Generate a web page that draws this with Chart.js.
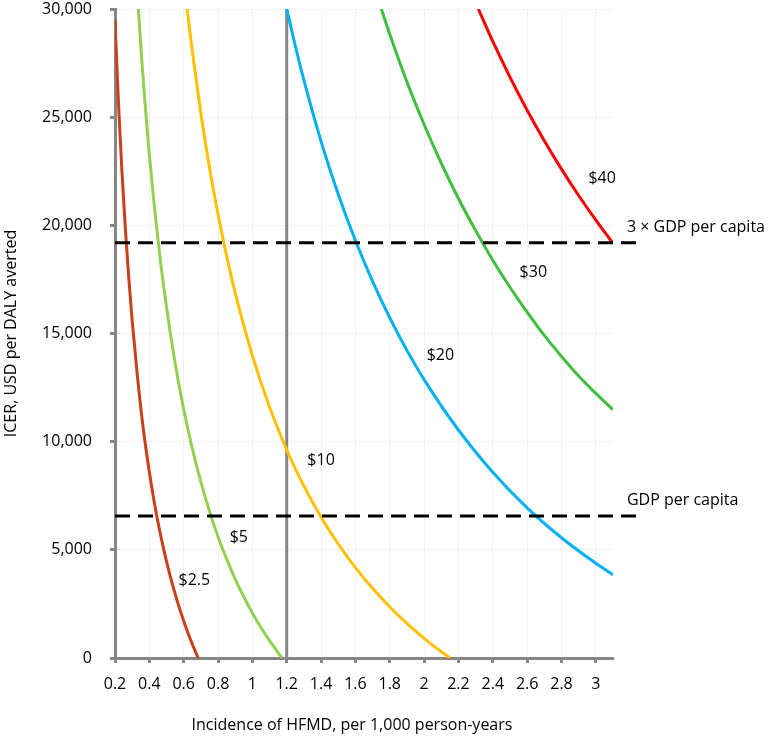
<!DOCTYPE html>
<html>
<head>
<meta charset="utf-8">
<title>ICER by incidence of HFMD</title>
<script src="https://cdn.jsdelivr.net/npm/chart.js@4.4.0/dist/chart.umd.min.js"></script>
<style>
    html, body { margin: 0; padding: 0; background: #fff; }
    #wrap { width: 776px; height: 737px; }
</style>
</head>
<body>
<div id="wrap"><canvas id="icerChart" width="776" height="737"></canvas></div>
<script>
// values (incidence per 1,000 person-years -> ICER, USD per DALY averted)
const inc25 = [0.2, 0.22, 0.24, 0.26, 0.28, 0.30, 0.33, 0.36, 0.40, 0.44, 0.48, 0.52, 0.56, 0.60, 0.64, 0.684];
const icer25 = [29500, 25700, 22550, 19880, 17590, 15600, 13080, 10900, 8600, 6700, 5150, 3830, 2700, 1710, 840, 0];

const inc5 = [0.336, 0.36, 0.38, 0.40, 0.43, 0.46, 0.50, 0.55, 0.60, 0.65, 0.70, 0.75, 0.80, 0.85, 0.90, 0.95, 1.00, 1.05, 1.10, 1.173];
const icer5 = [30000, 27190, 25130, 23270, 20810, 18660, 16210, 13640, 11500, 9690, 8140, 6790, 5610, 4580, 3650, 2830, 2080, 1410, 800, 0];

const inc10 = [0.62, 0.65, 0.70, 0.75, 0.80, 0.85, 0.90, 1.0, 1.1, 1.2, 1.3, 1.4, 1.5, 1.6, 1.7, 1.8, 1.9, 2.0, 2.1, 2.152];
const icer10 = [30000, 28050, 25180, 22690, 20510, 18590, 16880, 13980, 11600, 9620, 7950, 6510, 5270, 4180, 3220, 2360, 1600, 910, 290, 0];

const inc20 = [1.2, 1.25, 1.3, 1.4, 1.5, 1.6, 1.7, 1.8, 1.9, 2.0, 2.2, 2.4, 2.6, 2.8, 3.0, 3.1];
const icer20 = [30000, 28290, 26710, 23880, 21440, 19300, 17410, 15730, 14220, 12870, 10540, 8590, 6940, 5560, 4380, 3850];

const inc30 = [1.751, 1.8, 1.9, 2.0, 2.1, 2.2, 2.3, 2.4, 2.5, 2.6, 2.7, 2.8, 2.9, 3.0, 3.1];
const icer30 = [30000, 28830, 26630, 24660, 22870, 21240, 19760, 18390, 17140, 15990, 14910, 13940, 13040, 12230, 11480];

const inc40 = [2.316, 2.4, 2.5, 2.6, 2.7, 2.8, 2.9, 3.0, 3.097];
const icer40 = [30000, 28500, 26850, 25320, 23910, 22600, 21380, 20240, 19200];

const gdpPerCapita = 6560;
const threeGdpPerCapita = 19200;
const refIncidence = 1.2;
const thresholdSpan = [0.2, 3.235];

const xTicks = [0.2, 0.4, 0.6, 0.8, 1, 1.2, 1.4, 1.6, 1.8, 2, 2.2, 2.4, 2.6, 2.8, 3];
const yTicks = [0, 5000, 10000, 15000, 20000, 25000, 30000];

function toPoints(xs, ys) {
    return xs.map((v, i) => ({x: v, y: ys[i]}));
}

function curve(xs, ys, color) {
    return {
        data: toPoints(xs, ys),
        borderColor: color,
        borderWidth: 3,
        pointRadius: 0,
        cubicInterpolationMode: 'monotone',
        fill: false
    };
}

function threshold(value) {
    return {
        data: toPoints(thresholdSpan, [value, value]),
        borderColor: '#000',
        borderWidth: 3,
        borderDash: [15, 8],
        pointRadius: 0,
        fill: false,
        clip: false
    };
}

const FONT = '"Open Sans", "Noto Sans", sans-serif';

// text labels, anchored in data units
const curveLabels = [
    {text: '$40', x: 3.037, y: 22190, align: 'center'},
    {text: '$30', x: 2.636, y: 17840, align: 'center'},
    {text: '$20', x: 2.095, y: 14000, align: 'center'},
    {text: '$10', x: 1.40, y: 9150, align: 'center'},
    {text: '$5', x: 0.921, y: 5590, align: 'center'},
    {text: '$2.5', x: 0.662, y: 3600, align: 'center'},
    {text: '3 \u00d7 GDP per capita', x: 3.181, y: 19890, align: 'left'},
    {text: 'GDP per capita', x: 3.181, y: 7300, align: 'left'}
];

const textPlugin = {
    id: 'textPlugin',
    afterDatasetsDraw(chart) {
        const ctx = chart.ctx;
        const xs = chart.scales.x;
        const ys = chart.scales.y;
        ctx.save();
        ctx.fillStyle = '#000';
        ctx.font = '16px ' + FONT;
        ctx.textBaseline = 'middle';
        curveLabels.forEach(l => {
            ctx.textAlign = l.align;
            ctx.fillText(l.text, xs.getPixelForValue(l.x), ys.getPixelForValue(l.y));
        });

        // axis titles
        ctx.textAlign = 'center';
        ctx.fillText('Incidence of HFMD, per 1,000 person-years', 352, 725);
        ctx.translate(11, (chart.chartArea.top + chart.chartArea.bottom) / 2);
        ctx.rotate(-Math.PI / 2);
        ctx.fillText('ICER, USD per DALY averted', 0, 0);
        ctx.restore();
    }
};

const config = {
    type: 'line',
    data: {
        datasets: [
            threshold(threeGdpPerCapita),
            threshold(gdpPerCapita),
            curve(inc25, icer25, '#C9401B'),
            curve(inc5, icer5, '#92D050'),
            curve(inc10, icer10, '#FFC000'),
            curve(inc20, icer20, '#00B0F0'),
            curve(inc30, icer30, '#3FBF3F'),
            curve(inc40, icer40, '#FF0000'),
            {
                data: toPoints([refIncidence, refIncidence], [0, 30000]),
                borderColor: '#868686',
                borderWidth: 3,
                pointRadius: 0,
                fill: false
            }
        ]
    },
    options: {
        responsive: false,
        animation: false,
        layout: {
            padding: {left: 0, top: 9, right: 163, bottom: 0}
        },
        plugins: {
            legend: {display: false},
            tooltip: {enabled: false}
        },
        scales: {
            x: {
                type: 'linear',
                min: 0.2,
                max: 3.1,
                afterFit(scale) {
                    scale.height = 79;
                    scale.paddingLeft = 0;
                    scale.paddingRight = 0;
                },
                afterBuildTicks(scale) {
                    scale.ticks = xTicks.map(v => ({value: v}));
                },
                ticks: {
                    color: '#000',
                    font: {family: FONT, size: 16},
                    padding: 12,
                    maxRotation: 0,
                    autoSkip: false,
                    callback: v => String(Number(v.toFixed(1)))
                },
                grid: {
                    color: '#f0f0f0',
                    lineWidth: 1,
                    tickLength: 5,
                    tickColor: '#868686',
                    tickWidth: 3
                },
                border: {color: '#868686', width: 3}
            },
            y: {
                type: 'linear',
                min: 0,
                max: 30000,
                afterFit(scale) {
                    scale.width = 115;
                    scale.paddingTop = 0;
                    scale.paddingBottom = 0;
                },
                afterBuildTicks(scale) {
                    scale.ticks = yTicks.map(v => ({value: v}));
                },
                ticks: {
                    color: '#000',
                    font: {family: FONT, size: 16},
                    padding: 18,
                    callback: v => v.toLocaleString('en-US')
                },
                grid: {
                    color: '#f0f0f0',
                    lineWidth: 1,
                    tickLength: 5,
                    tickColor: '#868686',
                    tickWidth: 3
                },
                border: {color: '#868686', width: 3}
            }
        }
    },
    plugins: [textPlugin]
};

let ctx = document.getElementById('icerChart').getContext('2d');
new Chart(ctx, config);
</script>
</body>
</html>
